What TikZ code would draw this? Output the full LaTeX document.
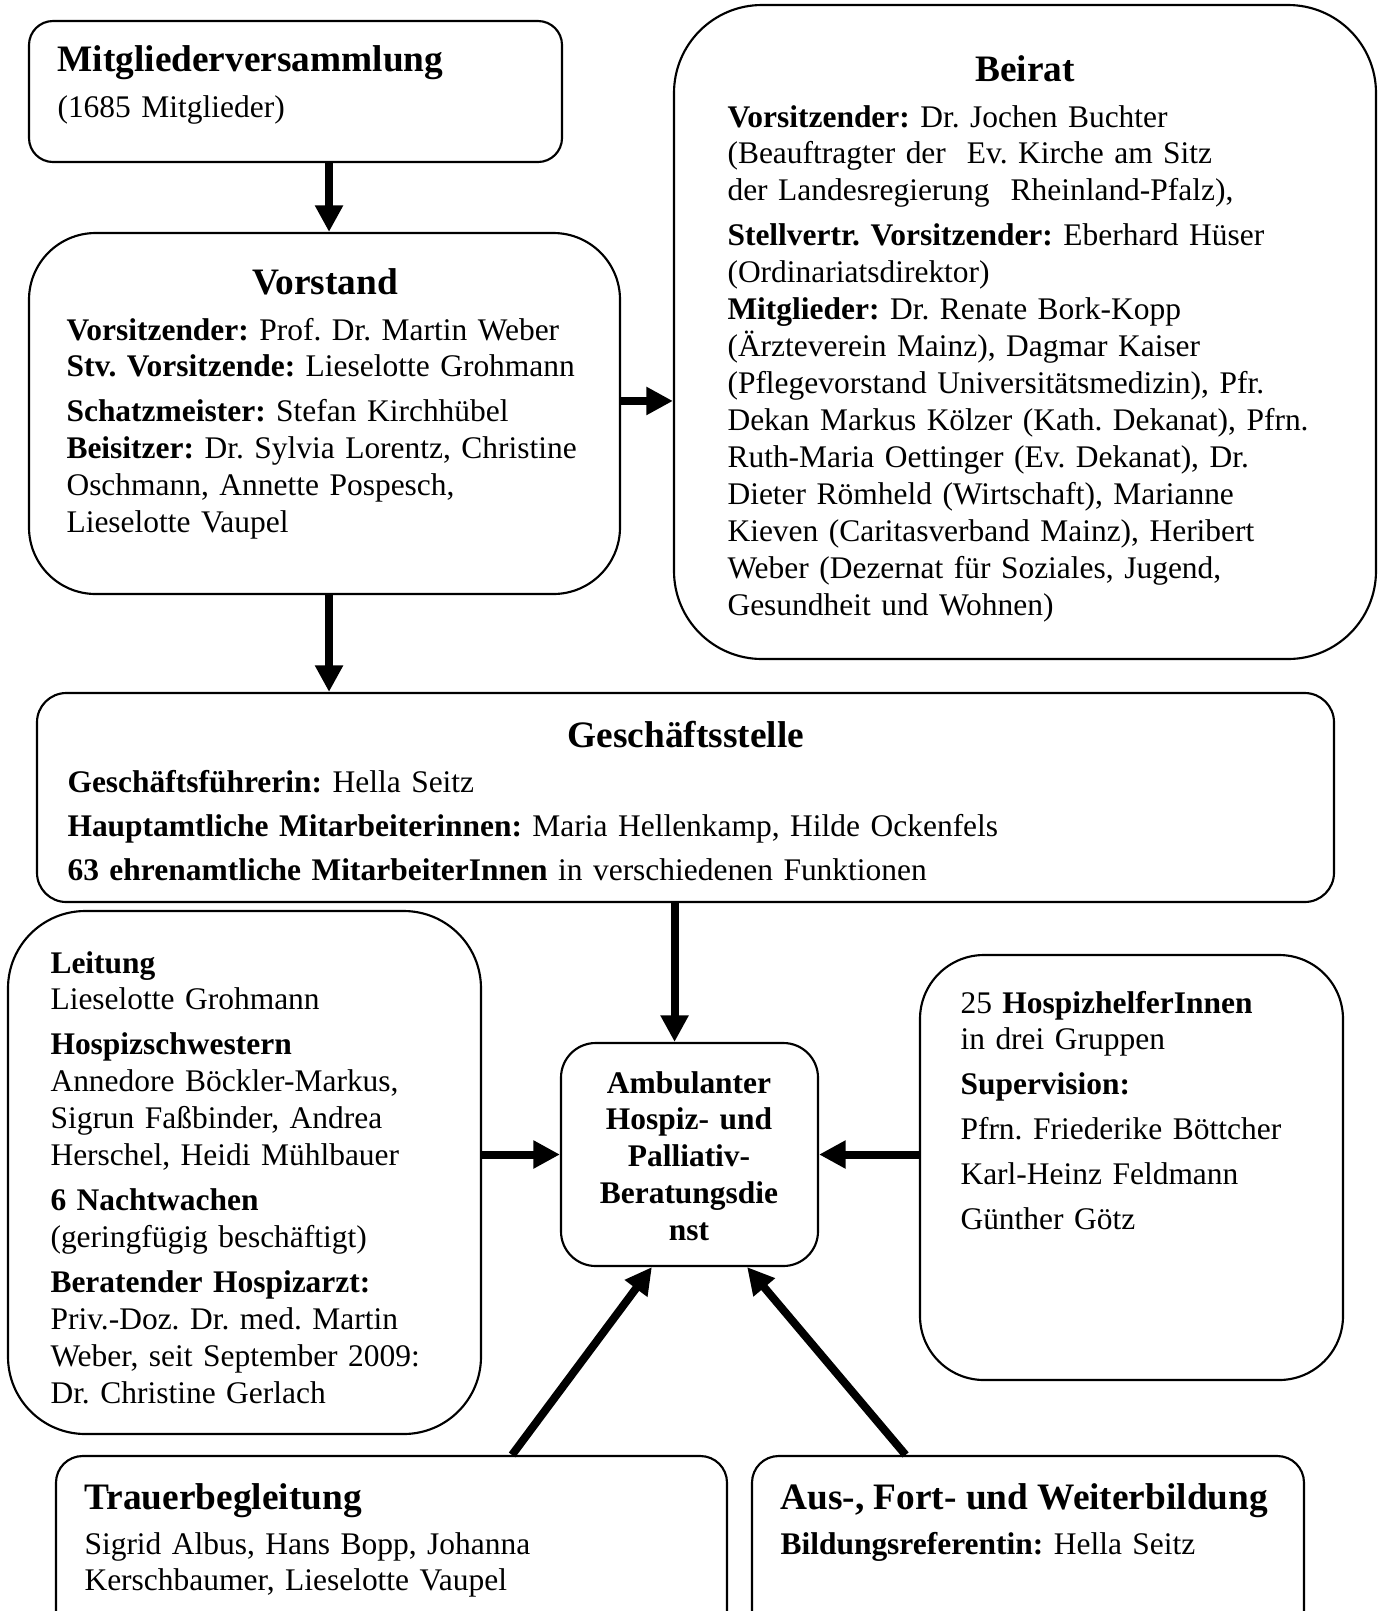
\documentclass[tikz,border=0pt]{standalone}
\usepackage{fontspec}
\setmainfont{Liberation Serif}
\usetikzlibrary{arrows.meta,fit}
\frenchspacing

\begin{document}
\begin{tikzpicture}[x=0.375pt,y=-0.375pt]
  \tikzstyle{box}=[draw=black,line width=0.8pt,inner sep=0pt]
  \tikzstyle{head}=[font=\fontsize{14pt}{16pt}\selectfont\bfseries,anchor=base west,inner sep=0pt]
  \tikzstyle{txt}=[font=\fontsize{11.8pt}{13.85pt}\selectfont,align=left,text width=15cm,anchor=base west,inner sep=0pt]
  \tikzstyle{link}=[line width=3pt,-{Triangle[length=10pt,width=10pt]}]

  \useasboundingbox (0,0) rectangle (1382,1611);

  % boxes
  \node[box,rounded corners=9pt,fit={(29,21) (562,162)}](mv){};
  \node[box,rounded corners=25pt,fit={(29,233) (620,594)}](vorstand){};
  \node[box,rounded corners=33pt,fit={(674,5) (1376,659)}](beirat){};
  \node[box,rounded corners=11pt,fit={(37,693) (1334,902)}](gs){};
  \node[box,rounded corners=29pt,fit={(8,911) (481,1434)}](pflege){};
  \node[box,rounded corners=13pt,fit={(561,1043) (818,1266)}](amb){};
  \node[box,rounded corners=24pt,fit={(920,955) (1343,1380)}](helfer){};
  \node[box,rounded corners=10pt,fit={(56,1456) (727,1640)}](trauer){};
  \node[box,rounded corners=10pt,fit={(752,1456) (1304,1640)}](bildung){};

  % texts
  \node[head](mvhead) at (57,71) {Mitgliederversammlung};
  \node[txt](mvtxt) at (57,117) {(1685 Mitglieder)};

  \node[head,anchor=base](vorstandhead) at (325,294) {Vorstand};
  \node[txt](vorstandtxt) at (66,340) {\textbf{Vorsitzender:} Prof. Dr. Martin Weber\\
    \textbf{Stv. Vorsitzende:} Lieselotte Grohmann\\[3pt]
    \textbf{Schatzmeister:} Stefan Kirchhübel\\
    \textbf{Beisitzer:} Dr. Sylvia Lorentz, Christine\\
    Oschmann, Annette Pospesch,\\
    Lieselotte Vaupel};

  \node[head,anchor=base](beirathead) at (1025,81) {Beirat};
  \node[txt](beirattxt) at (727,127) {\textbf{Vorsitzender:} Dr. Jochen Buchter\\
    (Beauftragter der\ \ Ev. Kirche am Sitz\\
    der Landesregierung\ \ Rheinland-Pfalz),\\[3pt]
    \textbf{Stellvertr. Vorsitzender:} Eberhard Hüser\\
    (Ordinariatsdirektor)\\
    \textbf{Mitglieder:} Dr. Renate Bork-Kopp\\
    (Ärzteverein Mainz), Dagmar Kaiser\\
    (Pflegevorstand Universitätsmedizin), Pfr.\\
    Dekan Markus Kölzer (Kath. Dekanat), Pfrn.\\
    Ruth-Maria Oettinger (Ev. Dekanat), Dr.\\
    Dieter Römheld (Wirtschaft), Marianne\\
    Kieven (Caritasverband Mainz), Heribert\\
    Weber (Dezernat für Soziales, Jugend,\\
    Gesundheit und Wohnen)};

  \node[head,anchor=base](gshead) at (686,747) {Geschäftsstelle};
  \node[txt](gstxt) at (67,792) {\textbf{Geschäftsführerin:} Hella Seitz\\[2.7pt]
    \textbf{Hauptamtliche Mitarbeiterinnen:} Maria Hellenkamp, Hilde Ockenfels\\[2.7pt]
    \textbf{63 ehrenamtliche MitarbeiterInnen} in verschiedenen Funktionen};

  \node[txt](pflegetxt) at (50,973) {\textbf{Leitung}\\
    Lieselotte Grohmann\\[3pt]
    \textbf{Hospizschwestern}\\
    Annedore Böckler-Markus,\\
    Sigrun Faßbinder, Andrea\\
    Herschel, Heidi Mühlbauer\\[3pt]
    \textbf{6 Nachtwachen}\\
    (geringfügig beschäftigt)\\[3pt]
    \textbf{Beratender Hospizarzt:}\\
    Priv.-Doz. Dr. med. Martin\\
    Weber, seit September 2009:\\
    Dr. Christine Gerlach};

  \node[txt,align=center,text width=100pt,anchor=base,font=\fontsize{11.8pt}{13.85pt}\selectfont\bfseries](ambtxt) at (689,1093)
    {Ambulanter\\Hospiz- und\\Palliativ-\\Beratungsdie\\nst};

  \node[txt](helfertxt) at (960,1013) {25 \textbf{HospizhelferInnen}\\
    in drei Gruppen\\[3pt]
    \textbf{Supervision:}\\[3pt]
    Pfrn. Friederike Böttcher\\[3pt]
    Karl-Heinz Feldmann\\[3pt]
    Günther Götz};

  \node[head](trauerhead) at (84,1509) {Trauerbegleitung};
  \node[txt](trauertxt) at (84,1554) {Sigrid Albus, Hans Bopp, Johanna\\
    Kerschbaumer, Lieselotte Vaupel};

  \node[head](bildunghead) at (780,1509) {Aus-, Fort- und Weiterbildung};
  \node[txt](bildungtxt) at (780,1554) {\textbf{Bildungsreferentin:} Hella Seitz};

  % arrows
  \draw[link] ([xshift=1.7pt]vorstand.north |- mv.south) -- ([xshift=1.7pt]vorstand.north);
  \draw[link] ([yshift=4.7pt]vorstand.east) -- ([yshift=4.7pt]vorstand.east -| beirat.west);
  \draw[link] ([xshift=1.7pt]vorstand.south) -- ([xshift=1.7pt]vorstand.south |- gs.north);
  \draw[link] ([xshift=-5.6pt]amb.north |- gs.south) -- ([xshift=-5.6pt]amb.north);
  \draw[link] (pflege.east |- amb.west) -- (amb.west);
  \draw[link] (helfer.west |- amb.east) -- (amb.east);
  \draw[link] ([xshift=45.2pt]trauer.north) -- ([xshift=-14.1pt]amb.south);
  \draw[link] ([xshift=-45.9pt]bildung.north) -- ([xshift=21.6pt]amb.south);
\end{tikzpicture}
\end{document}
